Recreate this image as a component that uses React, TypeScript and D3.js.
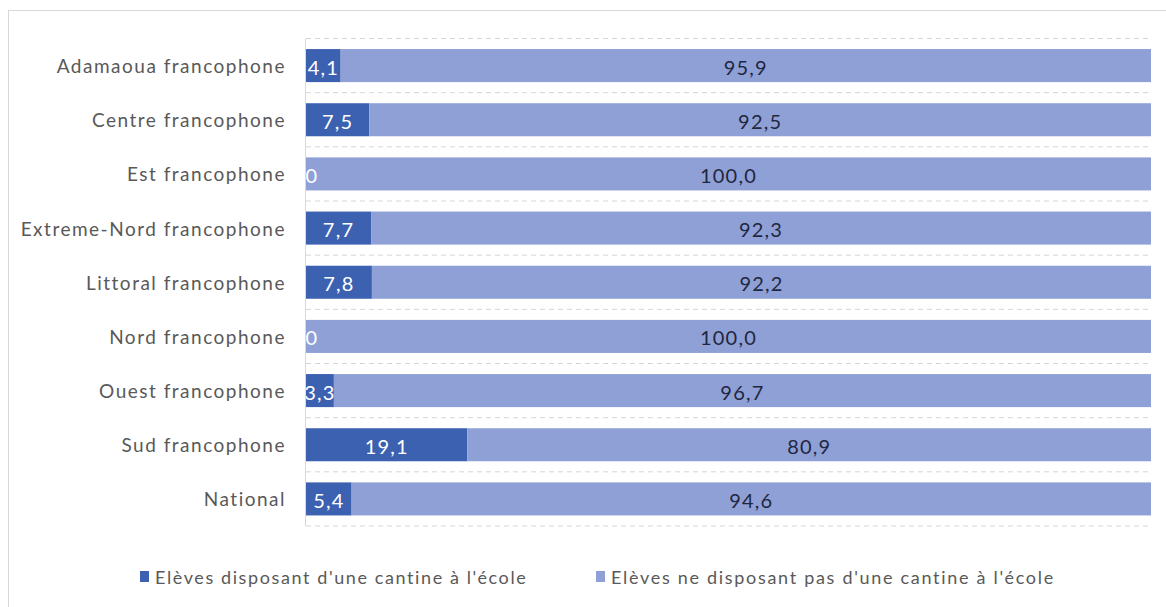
import React from "react";
import * as d3 from "d3";

const categories = [
  "Adamaoua francophone",
  "Centre francophone",
  "Est francophone",
  "Extreme-Nord francophone",
  "Littoral francophone",
  "Nord francophone",
  "Ouest francophone",
  "Sud francophone",
  "National",
];
const withCanteen = [4.1, 7.5, 0, 7.7, 7.8, 0, 3.3, 19.1, 5.4];
const withoutCanteen = [95.9, 92.5, 100.0, 92.3, 92.2, 100.0, 96.7, 80.9, 94.6];
const seriesNames = [
  "Elèves disposant d'une cantine à l'école",
  "Elèves ne disposant pas d'une cantine  à l'école",
];

const W = 1166;
const H = 607;
const plot = { left: 306, right: 1151, top: 38.5, bottom: 526 };
const colors = ["#3d61b1", "#8fa0d6"];
const FONT = "Lato, 'Open Sans', sans-serif";

const fmt = (v: number) => (v === 0 ? "0" : v.toFixed(1).replace(".", ","));

export default function App() {
  const x = d3.scaleLinear().domain([0, 100]).range([plot.left, plot.right]);
  const y = d3
    .scaleBand<string>()
    .domain(categories)
    .range([plot.top, plot.bottom])
    .paddingInner(0.39)
    .paddingOuter(0.195);
  const bw = y.bandwidth();
  const step = y.step();
  const gridYs = d3.range(categories.length + 1).map((i) => plot.top + i * step);

  return (
    <svg
      width={W}
      height={H}
      style={{ position: "absolute", left: 0, top: 0, background: "#fff" }}
    >
      <defs>
        <clipPath id="plotClip">
          <rect x={plot.left} y={plot.top} width={plot.right - plot.left} height={plot.bottom - plot.top} />
        </clipPath>
      </defs>
      <rect x={8.5} y={10.5} width={1170} height={620} fill="#fff" stroke="#d9d9d9" />
      {gridYs.map((gy, i) => (
        <line
          key={i}
          x1={plot.left}
          x2={plot.right}
          y1={gy}
          y2={gy}
          stroke="#d6d6d6"
          strokeDasharray="5,4"
        />
      ))}
      <line x1={plot.left - 0.5} x2={plot.left - 0.5} y1={plot.top} y2={plot.bottom} stroke="#d9d9d9" />
      {categories.map((c, i) => {
        const y0 = y(c) as number;
        const a = withCanteen[i];
        const b = withoutCanteen[i];
        return (
          <g key={c}>
            <rect x={x(0)} y={y0} width={x(a) - x(0)} height={bw} fill={colors[0]} />
            <rect x={x(a)} y={y0} width={x(a + b) - x(a)} height={bw} fill={colors[1]} />
            <text
              x={plot.left - 20}
              y={y0 + bw / 2}
              textAnchor="end"
              dominantBaseline="central"
              fontFamily={FONT}
              fontSize={19}
              letterSpacing={1.5}
              fill="#595959"
            >
              {c}
            </text>
            <g clipPath="url(#plotClip)">
              <text
                x={(x(0) + x(a)) / 2 + (a === 0 ? 6 : 0)}
                y={y0 + bw / 2 + 1}
                textAnchor="middle"
                dominantBaseline="central"
                fontFamily={FONT}
                fontSize={20}
                letterSpacing={1.2}
                fill="#ffffff"
              >
                {fmt(a)}
              </text>
              <text
                x={(x(a) + x(a + b)) / 2}
                y={y0 + bw / 2 + 1}
                textAnchor="middle"
                dominantBaseline="central"
                fontFamily={FONT}
                fontSize={20}
                letterSpacing={1.2}
                fill="#1f2740"
              >
                {fmt(b)}
              </text>
            </g>
          </g>
        );
      })}
      {seriesNames.map((s, i) => {
        const lx = i === 0 ? 140 : 596;
        return (
          <g key={s}>
            <rect x={lx} y={571} width={9} height={11} fill={colors[i]} />
            <text
              x={lx + 15}
              y={577}
              dominantBaseline="central"
              fontFamily={FONT}
              fontSize={18}
              letterSpacing={i === 0 ? 1.6 : 1.7}
              fill="#595959"
            >
              {s}
            </text>
          </g>
        );
      })}
    </svg>
  );
}
